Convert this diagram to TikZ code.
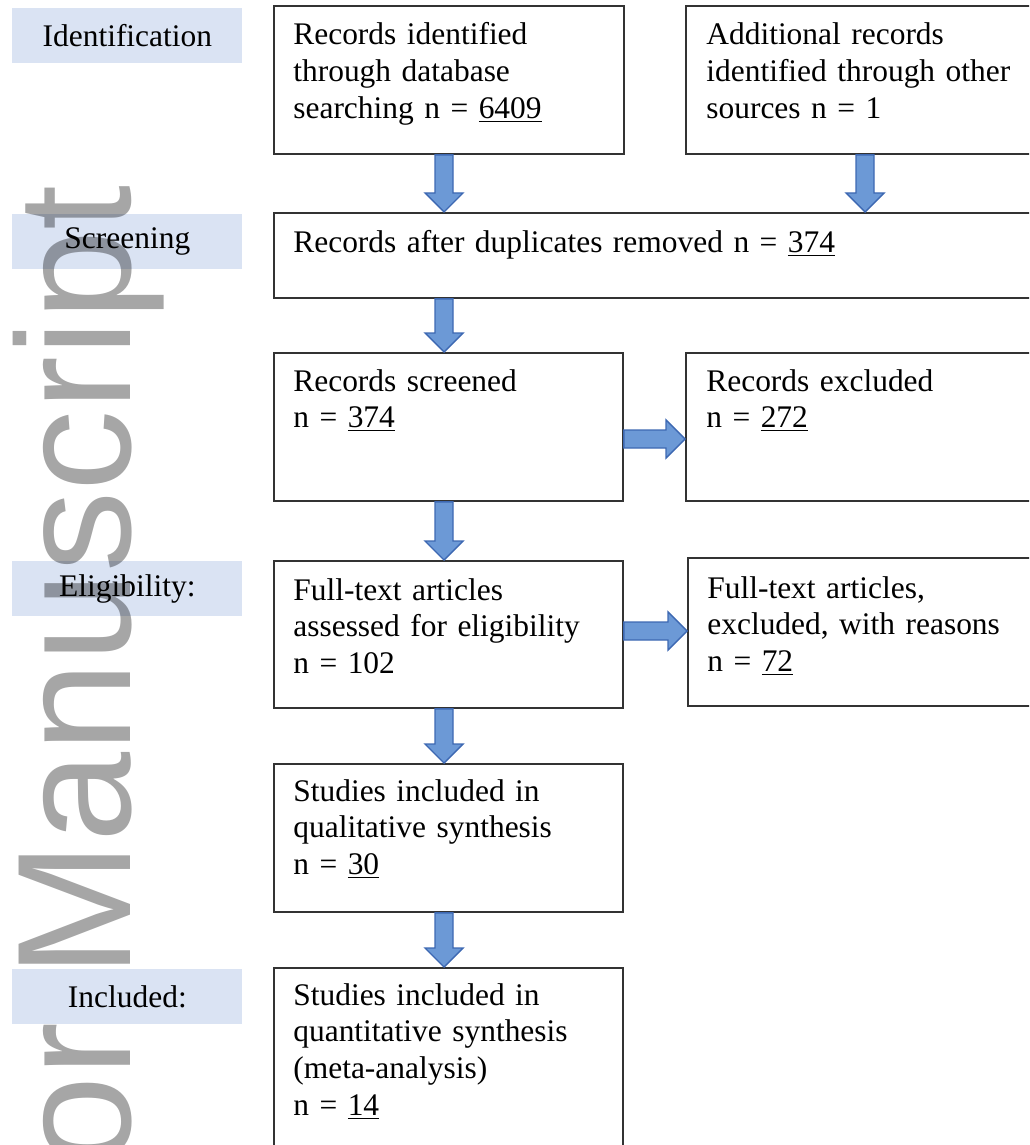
\documentclass[tikz,border=0pt]{standalone}
\usepackage{fontspec}
\setmainfont{Liberation Serif}
\newfontfamily\wmfont{Liberation Sans}
\usetikzlibrary{calc}
\definecolor{LabelBlue}{HTML}{DAE3F3}
\definecolor{ArrowFill}{HTML}{6C99D6}
\definecolor{ArrowLine}{HTML}{3D68B2}
\definecolor{BoxLine}{HTML}{333333}
\newcommand{\px}{0.02cm}
\newcommand{\boxfont}{\fontsize{17.9}{21.05}\selectfont}

\begin{document}
\begin{tikzpicture}[
	x=\px, y=-\px,
	stage label/.style={
		rectangle,
		fill=LabelBlue,
		anchor=north west,
		inner sep=0pt,
		minimum width=230*\px,
		minimum height=55*\px,
		font=\boxfont
	},
	flow box/.style={
		rectangle,
		draw=BoxLine,
		line width=1.1pt,
		anchor=north west,
		inner sep=0pt
	},
	box text/.style={
		anchor=base west,
		inner sep=0pt,
		text width=320*\px,
		align=left,
		font=\boxfont
	},
	% block arrows
	block arrow/.style={
		fill=ArrowFill,
		draw=ArrowLine,
		line width=0.8pt,
		line join=miter
	},
	down arrow/.style={
		block arrow,
		to path={($(\tikztostart)+(-9,0)$) -- ($(\tikztotarget)+(-9,-19)$)
			-- ($(\tikztotarget)+(-19,-19)$) -- (\tikztotarget)
			-- ($(\tikztotarget)+(19,-19)$) -- ($(\tikztotarget)+(9,-19)$)
			-- ($(\tikztostart)+(9,0)$) -- cycle}
	},
	right arrow/.style={
		block arrow,
		to path={($(\tikztostart)+(0,-9)$) -- ($(\tikztotarget)+(-19,-9)$)
			-- ($(\tikztotarget)+(-19,-19)$) -- (\tikztotarget)
			-- ($(\tikztotarget)+(-19,19)$) -- ($(\tikztotarget)+(-19,9)$)
			-- ($(\tikztostart)+(0,9)$) -- cycle}
	},
	watermark/.style={
		rotate=90,
		anchor=base east,
		inner sep=0pt,
		text=black,
		text opacity=0.35,
		font=\wmfont\fontsize{92.2}{92.2}\selectfont
	}
	]
	
	\clip (0,0) rectangle (1029,1145);
	
	% ================= STAGES =================
	\node[stage label] (ident) at (12,8) {Identification};
	\node[stage label] (screen) at (12,214) {Screening};
	\node[stage label] (elig) at (12,561) {Eligibility:};
	\node[stage label] (incl) at (12,969) {Included:};
	
	% ================= BOXES =================
	\node[flow box, minimum width=350*\px, minimum height=148*\px] (b1) at (273,5) {};
	\node[flow box, minimum width=360*\px, minimum height=148*\px] (b2) at (685,5) {};
	\node[flow box, minimum width=770*\px, minimum height=85*\px] (b3) at (273,212) {};
	\node[flow box, minimum width=349*\px, minimum height=148*\px] (b4) at (273,352) {};
	\node[flow box, minimum width=360*\px, minimum height=148*\px] (b5) at (685,352) {};
	\node[flow box, minimum width=349*\px, minimum height=147*\px] (b6) at (273,560) {};
	\node[flow box, minimum width=360*\px, minimum height=148*\px] (b7) at (687,557) {};
	\node[flow box, minimum width=349*\px, minimum height=148*\px] (b8) at (273,763) {};
	\node[flow box, minimum width=349*\px, minimum height=200*\px] (b9) at (273,967) {};
	
	% ================= TEXTS =================
	\node[box text] (t1) at ([shift={(20,40)}]b1.north west)
		{Records identified\\through database\\searching n = \underline{6409}};
	\node[box text] (t2) at ([shift={(21,40)}]b2.north west)
		{Additional records\\identified through other\\sources n = 1};
	\node[box text, text width=700*\px] (t3) at ([shift={(20,41)}]b3.north west)
		{Records after duplicates removed n = \underline{374}};
	\node[box text] (t4) at ([shift={(20,39)}]b4.north west)
		{Records screened\\n = \underline{374}};
	\node[box text] (t5) at ([shift={(21,39)}]b5.north west)
		{Records excluded\\n = \underline{272}};
	\node[box text] (t6) at ([shift={(20,40)}]b6.north west)
		{Full-text articles\\assessed for eligibility\\n = 102};
	\node[box text] (t7) at ([shift={(20,41)}]b7.north west)
		{Full-text articles,\\excluded, with reasons\\n = \underline{72}};
	\node[box text] (t8) at ([shift={(20,38)}]b8.north west)
		{Studies included in\\qualitative synthesis\\n = \underline{30}};
	\node[box text] (t9) at ([shift={(20,38)}]b9.north west)
		{Studies included in\\quantitative synthesis\\(meta-analysis)\\n = \underline{14}};
	
	% ================= ARROWS =================
	\coordinate (ax) at (444,0);
	\coordinate (ax2) at (865,0);
	\coordinate (row1) at (0,439);
	\coordinate (row2) at (0,631);
	
	\draw[down arrow] (b1.south -| ax) to (b3.north -| ax);
	\draw[down arrow] (b2.south -| ax2) to (b3.north -| ax2);
	\draw[down arrow] (b3.south -| ax) to (b4.north -| ax);
	\draw[down arrow] (b4.south -| ax) to (b6.north -| ax);
	\draw[down arrow] (b6.south -| ax) to (b8.north -| ax);
	\draw[down arrow] (b8.south -| ax) to (b9.north -| ax);
	\draw[right arrow] (b4.east |- row1) to (b5.west |- row1);
	\draw[right arrow] (b6.east |- row2) to (b7.west |- row2);
	
	% ================= WATERMARK =================
	\node[watermark] (wm) at (130,185) {Author Manuscript};
	
\end{tikzpicture}
\end{document}
